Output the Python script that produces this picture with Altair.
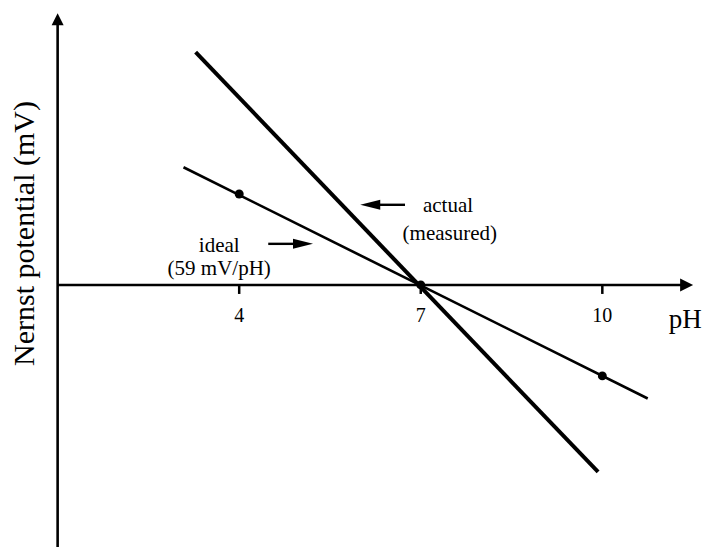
import altair as alt
import pandas as pd

# ---- data (x: pH, y: Nernst potential in mV) ----
ideal_line_ph = [3.08, 10.75]
ideal_line_mv = [229, -221]
actual_line_ph = [3.28, 9.93]
actual_line_mv = [453, -364]
ideal_pts_ph = [4, 7, 10]
ideal_pts_mv = [177, 0, -177]

tick_values = [4, 7, 10]
tick_labels = ["4", "7", "10"]
tick_mv = [0, 0, 0]

label_text = ["ideal", "(59 mV/pH)", "actual", "(measured)"]
label_ph = [3.67, 3.67, 7.45, 7.48]
label_mv = [64, 19.5, 142, 88]

x_title = ["pH"]
x_title_ph = [11.37]
x_title_mv = [0]

# axis lines drawn as arrows
x_axis_ph = [1.0, 11.3]
x_axis_mv = [0, 0]
y_axis_ph = [1.0, 1.0]
y_axis_mv = [-510, 506]
x_head_ph, x_head_mv = [11.5], [0]
y_head_ph, y_head_mv = [1.0], [529]

# annotation arrows
ideal_arrow_ph = [4.48, 4.95]
ideal_arrow_mv = [80, 80]
ideal_head_ph, ideal_head_mv = [5.22], [80]
actual_arrow_ph = [6.74, 6.3]
actual_arrow_mv = [156, 156]
actual_head_ph, actual_head_mv = [6.0], [156]

FONT = "Liberation Serif"

xs = alt.Scale(domain=[0.18, 11.68], nice=False, zero=False)
ys = alt.Scale(domain=[-510, 539], nice=False, zero=False)

y_axis = alt.Axis(
    domain=False, grid=False, ticks=False, labels=False, values=[0],
    title="Nernst potential (mV)", titleFont=FONT, titleFontSize=30,
    titleFontWeight="normal", titleColor="black", titleX=25, titleY=225,
    titleAlign="center", titleBaseline="alphabetic", titleAngle=270,
)

X = alt.X("ph:Q", scale=xs, axis=None)
Y = alt.Y("mv:Q", scale=ys, axis=y_axis)


def df(ph, mv, **extra):
    d = {"ph": ph, "mv": mv}
    d.update(extra)
    return pd.DataFrame(d)


def line(ph, mv, width):
    return alt.Chart(df(ph, mv)).mark_line(
        color="black", strokeWidth=width, strokeCap="butt"
    ).encode(x=X, y=Y)


HEAD = "M0,0L-2,-1L-2,1Z"
HEAD_LONG = "M0,0L-4,-1L-4,1Z"


def head(ph, mv, shape, size, angle):
    return alt.Chart(df(ph, mv)).mark_point(
        shape=shape, size=size, angle=angle, filled=True, color="black",
        opacity=1, strokeWidth=0
    ).encode(x=X, y=Y)


ticks = alt.Chart(df(tick_values, tick_mv)).mark_point(
    shape="M0,0L0,1", size=324, filled=False, color="black",
    opacity=1, strokeWidth=2.5
).encode(x=X, y=Y)

tick_text = alt.Chart(df(tick_values, tick_mv, t=tick_labels)).mark_text(
    font=FONT, fontSize=20, color="black", align="center",
    baseline="alphabetic", dy=37
).encode(x=X, y=Y, text="t:N")

ph_title = alt.Chart(df(x_title_ph, x_title_mv, t=x_title)).mark_text(
    font=FONT, fontSize=27, color="black", align="center",
    baseline="alphabetic", dy=43
).encode(x=X, y=Y, text="t:N")

labels = alt.Chart(df(label_ph, label_mv, t=label_text)).mark_text(
    font=FONT, fontSize=21, color="black", align="center", baseline="alphabetic"
).encode(x=X, y=Y, text="t:N")

chart = alt.layer(
    line(x_axis_ph, x_axis_mv, 2.6),
    line(y_axis_ph, y_axis_mv, 2.6),
    head(x_head_ph, x_head_mv, HEAD, 169, 0),
    head(y_head_ph, y_head_mv, HEAD, 144, 270),
    ticks,
    line(ideal_line_ph, ideal_line_mv, 2.6),
    line(actual_line_ph, actual_line_mv, 4),
    alt.Chart(df(ideal_pts_ph, ideal_pts_mv)).mark_circle(
        color="black", size=80, opacity=1
    ).encode(x=X, y=Y),
    line(ideal_arrow_ph, ideal_arrow_mv, 2.4),
    head(ideal_head_ph, ideal_head_mv, HEAD_LONG, 100, 0),
    line(actual_arrow_ph, actual_arrow_mv, 2.4),
    head(actual_head_ph, actual_head_mv, HEAD_LONG, 100, 180),
    tick_text,
    ph_title,
    labels,
).properties(
    width=696, height=539,
    autosize=alt.AutoSizeParams(type="none"),
    padding=0,
    background="white",
).configure_view(stroke=None)

chart.save("out.html", embed_options={"renderer": "svg", "actions": False})
